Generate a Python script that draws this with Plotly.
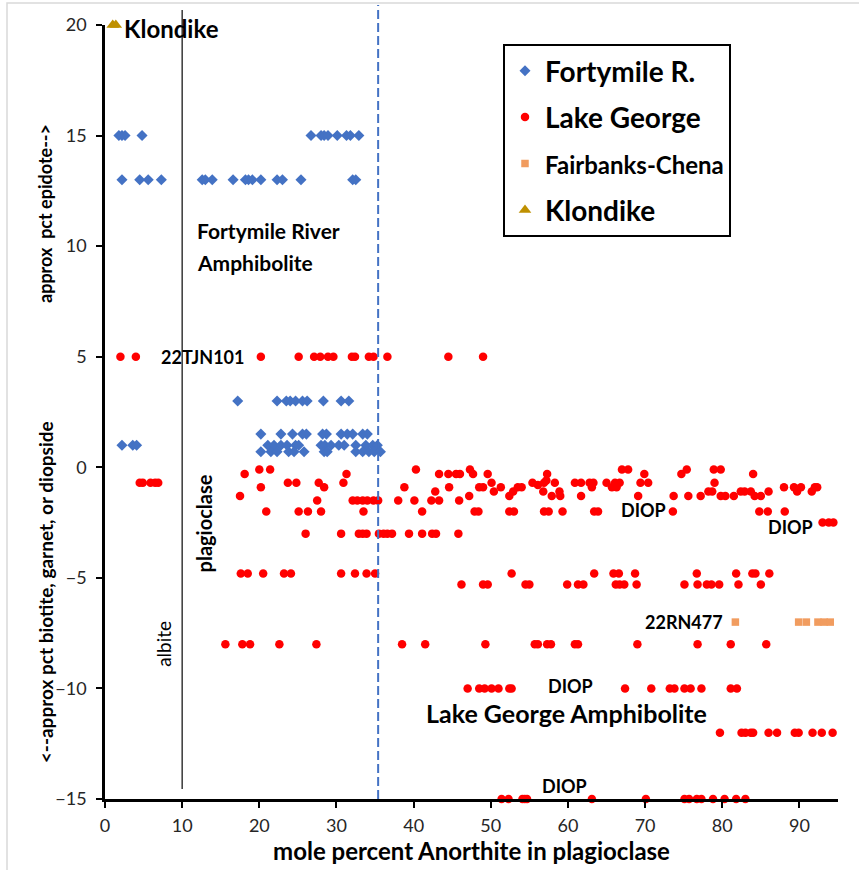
import plotly.graph_objects as go

# ---------------- data ----------------
# Fortymile R. (blue diamonds): x values per epidote / mineral level
fm_at_15 = [1.8, 2.2, 2.6, 4.8, 26.7, 28.0, 28.4, 28.9, 30.1, 31.3, 31.8, 32.9]
fm_at_13 = [2.2, 4.5, 5.6, 7.3, 12.6, 13.0, 13.9, 16.6, 18.2, 18.6, 19.1, 20.2,
            22.3, 23.0, 25.4, 32.1, 32.5]
fm_at_3 = [17.2, 22.3, 23.5, 24.0, 24.7, 25.6, 26.2, 28.3, 30.6, 31.6]
fm_at_1p5 = [20.2, 22.8, 24.3, 25.6, 26.1, 28.2, 28.7, 30.6, 31.4, 32.1, 33.4, 34.0]
fm_at_1 = [2.2, 3.6, 4.1, 21.1, 21.9, 22.8, 23.6, 24.7, 25.1, 28.0, 28.5, 29.3,
           30.3, 31.0, 32.5, 33.8, 34.7, 35.3]
fm_at_0p7 = [20.2, 21.5, 22.3, 23.8, 24.5, 25.8, 28.4, 28.8, 32.5, 33.4, 34.2, 34.9, 35.7]
fm_levels = [15, 13, 3, 1.5, 1.0, 0.7]

# Lake George (red circles)
lg_at_5 = [2.0, 4.0, 20.2, 25.1, 27.1, 27.9, 28.9, 29.6, 32.0, 32.4, 34.2, 34.8, 36.6, 44.5, 49.0]
lg_at_m0p1 = [20.0, 21.4, 40.3, 47.3, 67.0, 67.8, 75.4, 78.9, 79.8]
lg_at_m0p3 = [18.1, 31.3, 43.3, 44.5, 45.5, 46.0, 47.7, 49.6, 57.3, 69.9, 74.7, 84.0]
lg_at_m0p6 = [57.2]
lg_at_m0p7 = [4.5, 4.9, 5.9, 6.5, 6.9, 23.7, 24.8, 27.7, 30.9, 50.1, 55.4, 56.9, 58.3,
              60.9, 61.7, 62.8, 63.3, 65.0, 66.1, 66.7, 69.4, 70.4, 79.0]
lg_at_m0p8 = [56.1]
lg_at_m0p9 = [20.2, 28.4, 38.8, 44.6, 48.5, 49.0, 51.3, 53.5, 54.0, 63.1, 65.7, 66.3,
              88.0, 89.3, 90.2, 92.0, 92.3]
lg_at_m1p1 = [42.8, 50.4, 52.9, 56.8, 58.9, 78.2, 78.7, 82.4, 82.9, 83.7, 86.0, 89.7, 91.6]
lg_at_m1p3 = [17.5, 47.2, 52.4, 57.9, 59.0, 61.7, 69.1, 73.7, 75.6, 77.2, 79.8, 80.4,
              81.5, 84.2, 85.0]
lg_at_m1p5 = [27.5, 32.1, 32.7, 33.4, 34.0, 34.8, 35.4, 38.0, 40.1, 42.3, 43.3, 45.9]
lg_at_m2 = [20.9, 25.1, 26.3, 28.0, 33.5, 41.1, 47.9, 48.4, 52.4, 53.0, 56.9, 57.5,
            59.3, 63.4, 63.9, 73.6, 84.8, 85.9, 88.1]
lg_at_m2p5 = [93.0, 93.8, 94.4]
lg_at_m3 = [26.0, 30.6, 32.9, 33.4, 33.9, 35.5, 36.1, 36.6, 37.2, 39.4, 41.1, 42.4, 42.9, 45.8]
lg_at_m4p8 = [17.6, 18.5, 20.5, 23.2, 24.1, 30.6, 32.4, 33.9, 35.0, 52.7, 63.4, 65.9,
              66.6, 68.7, 76.7, 81.8, 83.9, 84.3, 86.1]
lg_at_m5p3 = [46.2, 49.0, 49.6, 54.5, 55.0, 59.9, 61.3, 62.0, 66.2, 66.7, 67.3, 68.9,
              75.1, 76.8, 78.0, 78.6, 79.6, 82.1, 85.0]
lg_at_m8 = [15.6, 17.8, 18.8, 22.6, 27.4, 38.5, 41.5, 49.3, 55.7, 56.1, 57.3, 57.8,
            60.9, 61.3, 69.0, 76.8, 81.1, 85.7]
lg_at_m10 = [47.0, 48.5, 49.2, 50.1, 51.0, 52.4, 52.7, 67.4, 70.8, 73.2, 73.8, 75.1,
             75.9, 77.3, 81.1, 81.9]
lg_at_m12 = [79.7, 82.5, 83.0, 83.7, 84.0, 86.0, 87.1, 89.4, 89.9, 91.7, 92.9, 94.3]
lg_at_m15 = [51.4, 52.3, 54.1, 54.4, 54.7, 63.1, 70.1, 75.1, 75.7, 76.7, 77.3, 78.8,
             80.3, 81.8, 83.0]
lg_levels = [5, -0.1, -0.3, -0.6, -0.7, -0.8, -0.9, -1.1, -1.3, -1.5, -2.0, -2.5, -3.0,
             -4.8, -5.3, -8.0, -10.0, -12.0, -15.0]

# Fairbanks-Chena (orange squares)
fc_x = [81.7, 89.9, 90.9, 92.4, 93.2, 94.0]
fc_y = [-7, -7, -7, -7, -7, -7]

# Klondike (gold triangles)
kl_x = [1.0, 1.4]
kl_y = [20, 20]

x_ticks = [0, 10, 20, 30, 40, 50, 60, 70, 80, 90]
y_ticks = [-15, -10, -5, 0, 5, 10, 15, 20]

# ---------------- build series ----------------
def flatten(rows, levels):
    xs, ys = [], []
    for row, lev in zip(rows, levels):
        xs += row
        ys += [lev] * len(row)
    return xs, ys

fm_x, fm_y = flatten([fm_at_15, fm_at_13, fm_at_3, fm_at_1p5, fm_at_1, fm_at_0p7], fm_levels)
lg_x, lg_y = flatten([lg_at_5, lg_at_m0p1, lg_at_m0p3, lg_at_m0p6, lg_at_m0p7, lg_at_m0p8,
                      lg_at_m0p9, lg_at_m1p1, lg_at_m1p3, lg_at_m1p5, lg_at_m2, lg_at_m2p5,
                      lg_at_m3, lg_at_m4p8, lg_at_m5p3, lg_at_m8, lg_at_m10, lg_at_m12,
                      lg_at_m15], lg_levels)

FONT = "Lato"
fig = go.Figure()
fig.add_trace(go.Scatter(x=fm_x, y=fm_y, mode="markers", name="Fortymile R.",
                         legendgroup="a", cliponaxis=False,
                         marker=dict(symbol="diamond", size=8.5, color="#4472C4")))
fig.add_trace(go.Scatter(x=lg_x, y=lg_y, mode="markers", name="Lake George",
                         legendgroup="b", cliponaxis=False,
                         marker=dict(symbol="circle", size=8.5, color="#FF0000")))
fig.add_trace(go.Scatter(x=fc_x, y=fc_y, mode="markers",
                         name='<span style="font-size:24px">Fairbanks-Chena</span>',
                         legendgroup="c", cliponaxis=False,
                         marker=dict(symbol="square", size=7.5, color="#F19C5F")))
fig.add_trace(go.Scatter(x=kl_x, y=kl_y, mode="markers", name="Klondike",
                         legendgroup="d", cliponaxis=False,
                         marker=dict(symbol="triangle-up", size=11, color="#BF9000")))

# ---------------- reference lines ----------------
L, R, T, B = 105, 21, 25, 71
W, H = 859, 870
pw, ph = W - L - R, H - T - B

def py2paper(py):
    return (H - B - py) / ph

def px2paper(px):
    return (px - L) / pw

shapes = [
    # albite / plagioclase boundary
    dict(type="line", xref="x", yref="paper", x0=10, x1=10,
         y0=py2paper(789), y1=py2paper(10), line=dict(color="#1a1a1a", width=1.3)),
    # dashed blue line
    dict(type="line", xref="x", yref="paper", x0=35.4, x1=35.4,
         y0=0, y1=py2paper(5), line=dict(color="#4472C4", width=2, dash="9px,4px")),
    # chart frame (left/top)
    dict(type="rect", xref="paper", yref="paper", x0=px2paper(7), x1=px2paper(900),
         y0=py2paper(900), y1=py2paper(3), line=dict(color="#D9D9D9", width=1.5),
         layer="below"),
]

ann = []
def add_text(text, x, y, size, bold=True, xanchor="left", angle=0, xref="x", yref="y"):
    ann.append(dict(text=("<b>%s</b>" % text) if bold else text, x=x, y=y, xref=xref,
                    yref=yref, showarrow=False, xanchor=xanchor, yanchor="middle",
                    textangle=angle, font=dict(family=FONT, size=size, color="#000000")))

add_text("Klondike", 2.2, 19.85, 24)
add_text("Fortymile River", 11.7, 10.7, 21)
add_text("Amphibolite", 11.7, 9.25, 21)
add_text("22TJN101", 7.0, 5.0, 18)
add_text("plagioclase", 12.8, -2.55, 20, angle=-90, xanchor="center")
add_text("albite", 7.6, -8.0, 19, bold=False, angle=-90, xanchor="center")
add_text("DIOP", 69.8, -1.95, 18, xanchor="center")
add_text("DIOP", 88.8, -2.7, 18, xanchor="center")
add_text("22RN477", 80.3, -7.0, 18, xanchor="right")
add_text("DIOP", 60.3, -9.9, 18, xanchor="center")
add_text("Lake George Amphibolite", 41.4, -11.1, 25)
add_text("DIOP", 59.6, -14.4, 18, xanchor="center")
add_text("approx  pct epidote-->", px2paper(45), 11.5, 18, angle=-90,
         xanchor="center", xref="paper")
add_text("<--approx pct biotite, garnet, or diopside", px2paper(45), -5.65, 19,
         angle=-90, xanchor="center", xref="paper")

fig.update_layout(
    width=W, height=H,
    margin=dict(l=L, r=R, t=T, b=B, pad=0),
    paper_bgcolor="white", plot_bgcolor="white",
    font=dict(family=FONT, color="#262626"),
    showlegend=True,
    legend=dict(x=px2paper(503), y=py2paper(44), xanchor="left", yanchor="top",
                bgcolor="white", bordercolor="#000000", borderwidth=2,
                font=dict(family=FONT, size=28, color="#000000", weight="bold"),
                tracegroupgap=7, itemsizing="trace"),
    shapes=shapes,
    annotations=ann,
    xaxis=dict(range=[0, 95], tickvals=x_ticks, showgrid=False, zeroline=False,
               showline=True, linecolor="#000000", linewidth=2.5,
               ticks="outside", ticklen=6, tickwidth=2, tickcolor="#000000",
               ticklabelstandoff=3,
               tickfont=dict(family=FONT, size=18, color="#262626"),
               title=dict(text="<b>mole percent Anorthite in plagioclase</b>",
                          font=dict(family=FONT, size=24, color="#000000"), standoff=4)),
    yaxis=dict(range=[-15, 20], tickvals=y_ticks, showgrid=False, zeroline=False,
               showline=True, linecolor="#000000", linewidth=2.5,
               ticks="outside", ticklen=6, tickwidth=2, tickcolor="#000000",
               ticklabelstandoff=6,
               tickfont=dict(family=FONT, size=18, color="#262626")),
)

fig.write_html("out.html")
